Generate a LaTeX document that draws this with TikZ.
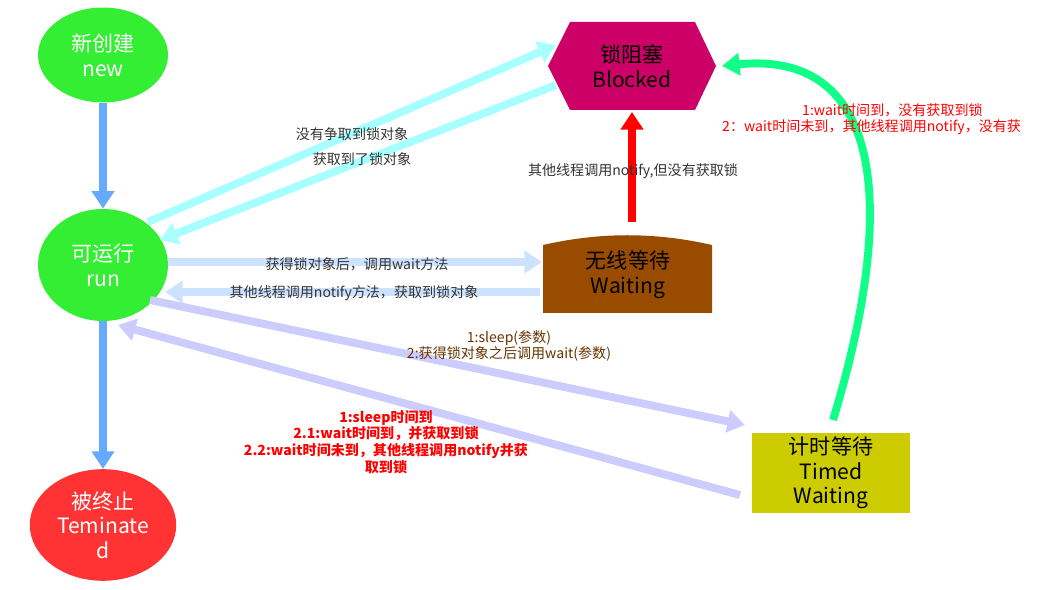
\documentclass[tikz,border=0pt]{standalone}
\usepackage{fontspec}
\setmainfont{Noto Sans CJK SC}
\usetikzlibrary{shapes.geometric,arrows.meta}
\definecolor{newgreen}{HTML}{33EE33}
\definecolor{endred}{HTML}{FF3333}
\definecolor{blockpink}{HTML}{CC0066}
\definecolor{waitbrown}{HTML}{994C00}
\definecolor{timedyellow}{HTML}{CCCC00}
\definecolor{lifeblue}{HTML}{66AAFF}
\definecolor{lockcyan}{HTML}{A8FFFF}
\definecolor{waitblue}{HTML}{CCE2FF}
\definecolor{sleeplilac}{HTML}{CCCCFF}
\definecolor{backgreen}{HTML}{11FF88}
\definecolor{labelbrown}{HTML}{663300}
\tikzset{
  state/.style={ellipse, minimum width=2.6cm, minimum height=1.9cm, font=\large, align=center},
  fat/.style={line width=4.5pt, -{Triangle[length=10pt,width=12.5pt]}},
  lbl/.style={font=\footnotesize, text=black!80, align=center},
  redlbl/.style={font=\footnotesize\bfseries, text=red, align=center}
}
\begin{document}
\begin{tikzpicture}[x=0.02cm,y=-0.02cm]
        \useasboundingbox (0,0) rectangle (1040,590);
        % Zustaende
        \node[state, fill=newgreen, text=white] (new) at (103,55) {新创建\\new};
        \node[state, fill=newgreen, text=white, minimum height=2.24cm] (run) at (103,265) {可运行\\run};
        \node[state, fill=endred, text=white, minimum height=2cm] (dead) at (103,525) {被终止\\Teminate\\d};
        \fill[blockpink] (548,66) -- (570,22) -- (695,22) -- (716,66) -- (695,110) -- (570,110) -- cycle;
        \node[font=\large, align=center] (blocked) at (632,66) {锁阻塞\\Blocked};
        \fill[waitbrown] (543,313) -- (543,245) .. controls (600,232) and (655,232) .. (712,245) -- (712,313) -- cycle;
        \node[font=\large, align=center] (waiting) at (628,275) {无线等待\\Waiting};
        \node[fill=timedyellow, minimum width=3.16cm, minimum height=1.6cm, font=\large, align=center, inner sep=0pt] (timed) at (831,473) {计时等待\\Timed\\Waiting};

        \coordinate (rB1) at (148,222); \coordinate (bB1) at (556,45);
        \coordinate (bB2) at (556,85);  \coordinate (rB2) at (160,240);
        \coordinate (rW1) at (168,262); \coordinate (wW1) at (542,262);
        \coordinate (wW2) at (540,292); \coordinate (rW2) at (165,292);
        \coordinate (wB) at (632,222);  \coordinate (bW) at (632,112);
        \coordinate (rT1) at (150,300); \coordinate (tT1) at (745,425);
        \coordinate (tT2) at (740,495); \coordinate (rT2) at (118,325);
        \coordinate (tB) at (833,420);  \coordinate (bT) at (722,66);

        \draw[fat, lifeblue] (new) -- (run);
        \draw[fat, lifeblue] (run) -- (dead);
        \draw[fat, lockcyan] (rB1) -- (bB1);
        \draw[fat, lockcyan] (bB2) -- (rB2);
        \draw[fat, waitblue] (rW1) -- (wW1);
        \draw[fat, waitblue] (wW2) -- (rW2);
        \draw[fat, red] (wB) -- (bW);
        \draw[fat, sleeplilac] (rT1) -- (tT1);
        \draw[fat, sleeplilac] (tT2) -- (rT2);
        \draw[fat, backgreen] (tB) .. controls (900,200) and (880,50) .. (bT);

        \node[lbl] (l1) at (352,134) {没有争取到锁对象};
        \node[lbl] (l2) at (362,159) {获取到了锁对象};
        \node[lbl] (l3) at (633,171) {其他线程调用notify,但没有获取锁};
        \node[lbl] (l4) at (357,264) {获得锁对象后，调用wait方法};
        \node[lbl] (l5) at (354,293) {其他线程调用notify方法，获取到锁对象};
        \node[lbl, text=labelbrown] (l6) at (509,346) {1:sleep(参数)\\2:获得锁对象之后调用wait(参数)};
        \node[redlbl] (l7) at (386,442) {1:sleep时间到\\2.1:wait时间到，并获取到锁\\2.2:wait时间未到，其他线程调用notify并获\\取到锁};
        \node[font=\footnotesize, text=red, anchor=west] (l8) at (796,110) {1:wait时间到，没有获取到锁};
        \node[font=\footnotesize, text=red, anchor=west] (l9) at (716,127) {2：wait时间未到，其他线程调用notify，没有获};
\end{tikzpicture}
\end{document}
